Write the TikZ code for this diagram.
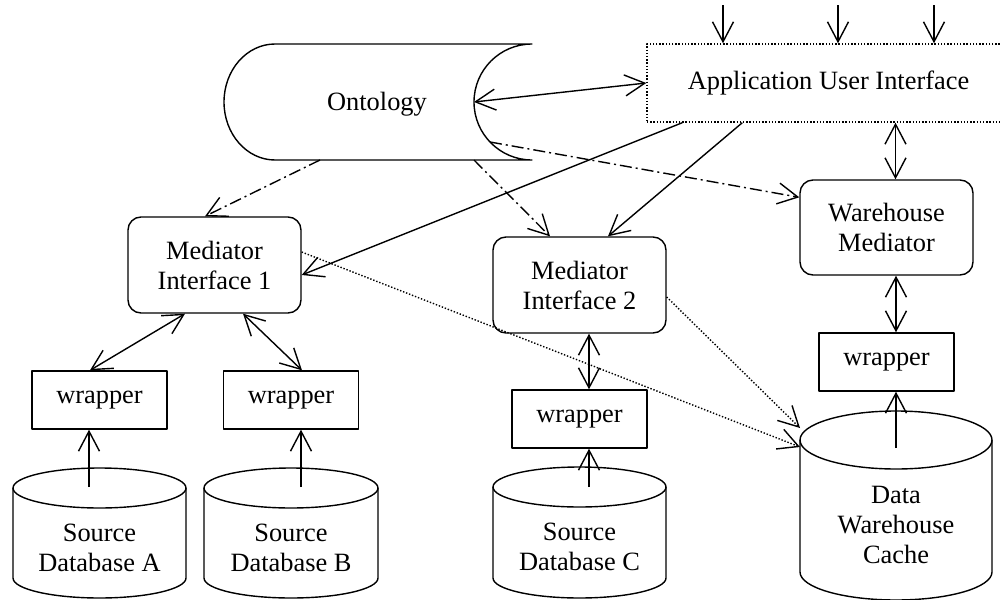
\documentclass[tikz,border=0pt]{standalone}
\usepackage{fontspec}
\setmainfont{Liberation Serif}
\usetikzlibrary{arrows.meta,calc}
\begin{document}
\begin{tikzpicture}[x=0.5pt,y=0.5pt,yscale=-1,
  every node/.style={font=\fontsize{13.2pt}{15pt}\selectfont, align=center, inner sep=0pt},
  ln/.style={line width=0.7pt, line join=round},
  tip/.style={ln, arrows={-Straight Barb[length=10pt,width=10.5pt,line width=0.7pt]}},
  tipb/.style={ln, arrows={Straight Barb[length=10pt,width=10.5pt,line width=0.7pt]-Straight Barb[length=10pt,width=10.5pt,line width=0.7pt]}},
  dashdot/.style={dash pattern=on 6pt off 2pt on 1pt off 2pt},
  finedot/.style={dash pattern=on 0.7pt off 0.9pt},
  medbox/.style={ln, draw, rounded corners=6.5pt, minimum width=86.5pt, minimum height=48pt},
  wrapbox/.style={ln, draw, minimum width=67.5pt, minimum height=29pt},
  uibox/.style={ln, draw, finedot, minimum width=181.5pt, minimum height=39pt}
]
\useasboundingbox (0,0) rectangle (1002,600);
\clip (0,0) rectangle (1002,600);

% Ontology
\draw[ln] (275,44) -- (532,44) arc[start angle=270, end angle=90, x radius=58, y radius=58]
  -- (275,160) arc[start angle=90, end angle=270, x radius=51, y radius=58] -- cycle;
\node (ont) at (377,104) {Ontology};
\coordinate (ontR) at (474,102);
\coordinate (ontB1) at (320,160);
\coordinate (ontB2) at (474,160);
\coordinate (ontR2) at (490,142);

% Application User Interface
\node[uibox] (aui) at (828.5,83) {Application User Interface};
\coordinate (t1) at (723,5);
\coordinate (t2) at (838,5);
\coordinate (t3) at (934,5);

% Mediators
\node[medbox] (mi1) at (214.5,265) {Mediator\\Interface 1};
\node[medbox] (mi2) at (579.5,285) {Mediator\\Interface 2};
\node[medbox, minimum height=47.5pt] (wm) at (886.5,227.5) {Warehouse\\Mediator};

% Wrappers
\node[wrapbox] (wA) at (99.5,400) {wrapper};
\node[wrapbox] (wB) at (291,400) {wrapper};
\node[wrapbox] (wC) at (579.5,419) {wrapper};
\node[wrapbox] (wW) at (886.5,362) {wrapper};

% Databases
\draw[ln] (99.5,488) ellipse [x radius=86.5, y radius=20];
\draw[ln] (13,488) -- (13,578) arc[start angle=180, end angle=0, x radius=86.5, y radius=20] -- (186,488);
\node (dbA) at (99.5,548) {Source\\Database A};

\draw[ln] (291,488) ellipse [x radius=87, y radius=20];
\draw[ln] (204,488) -- (204,578) arc[start angle=180, end angle=0, x radius=87, y radius=20] -- (378,488);
\node (dbB) at (291,548) {Source\\Database B};

\draw[ln] (579.5,487) ellipse [x radius=86.5, y radius=20];
\draw[ln] (493,487) -- (493,578) arc[start angle=180, end angle=0, x radius=86.5, y radius=20] -- (666,487);
\node (dbC) at (579.5,547) {Source\\Database C};

\draw[ln] (896,440) ellipse [x radius=96, y radius=29];
\draw[ln] (800,440) -- (800,572) arc[start angle=180, end angle=0, x radius=96, y radius=28] -- (992,440);
\node (dw) at (896,525) {Data\\Warehouse\\Cache};
\coordinate (dwL1) at (800,447);
\coordinate (dwL2) at (800,428);

% Connectors
\draw[tip] (t1) -- (t1 |- aui.north);
\draw[tip] (t2) -- (t2 |- aui.north);
\draw[tip] (t3) -- (t3 |- aui.north);
\draw[tipb] (ontR) -- (aui.west);
\coordinate (wmx) at ($(wm.north)+(9,0)$);
\draw[tipb] (wmx |- aui.south) -- (wmx);
\draw[tip] ($(aui.south west)+(36,0)$) -- ($(mi1.east)+(0,10)$);
\draw[tip] ($(aui.south west)+(96,0)$) -- ($(mi2.north)+(28.5,0)$);
\draw[tip, dashdot] (ontB1) -- ($(mi1.north)+(-9.5,0)$);
\draw[tip, dashdot] (ontB2) -- ($(mi2.north)+(-29.5,0)$);
\draw[tip, dashdot] (ontR2) -- ($(wm.north west)+(0,18)$);
\draw[tip, finedot] ($(mi1.east)+(0,-13)$) -- (dwL1);
\draw[tip, finedot] ($(mi2.east)+(0,12)$) -- (dwL2);
\draw[tipb] ($(mi1.south)+(-29.5,0)$) -- ($(wA.north)+(-9.5,0)$);
\draw[tipb] ($(mi1.south)+(28.5,0)$) -- ($(wB.north)+(11,0)$);
\draw[tipb] ($(mi2.south)+(9.5,0)$) -- ($(wC.north)+(9.5,0)$);
\draw[tipb] ($(wm.south)+(9.5,0)$) -- ($(wW.north)+(9.5,0)$);
\coordinate (sA) at (89,487);
\coordinate (sB) at (301,487);
\coordinate (sC) at (589,487);
\coordinate (sW) at (896,448);
\draw[tip] (sA) -- (sA |- wA.south);
\draw[tip] (sB) -- (sB |- wB.south);
\draw[tip] (sC) -- (sC |- wC.south);
\draw[tip] (sW) -- (sW |- wW.south);
\end{tikzpicture}
\end{document}
